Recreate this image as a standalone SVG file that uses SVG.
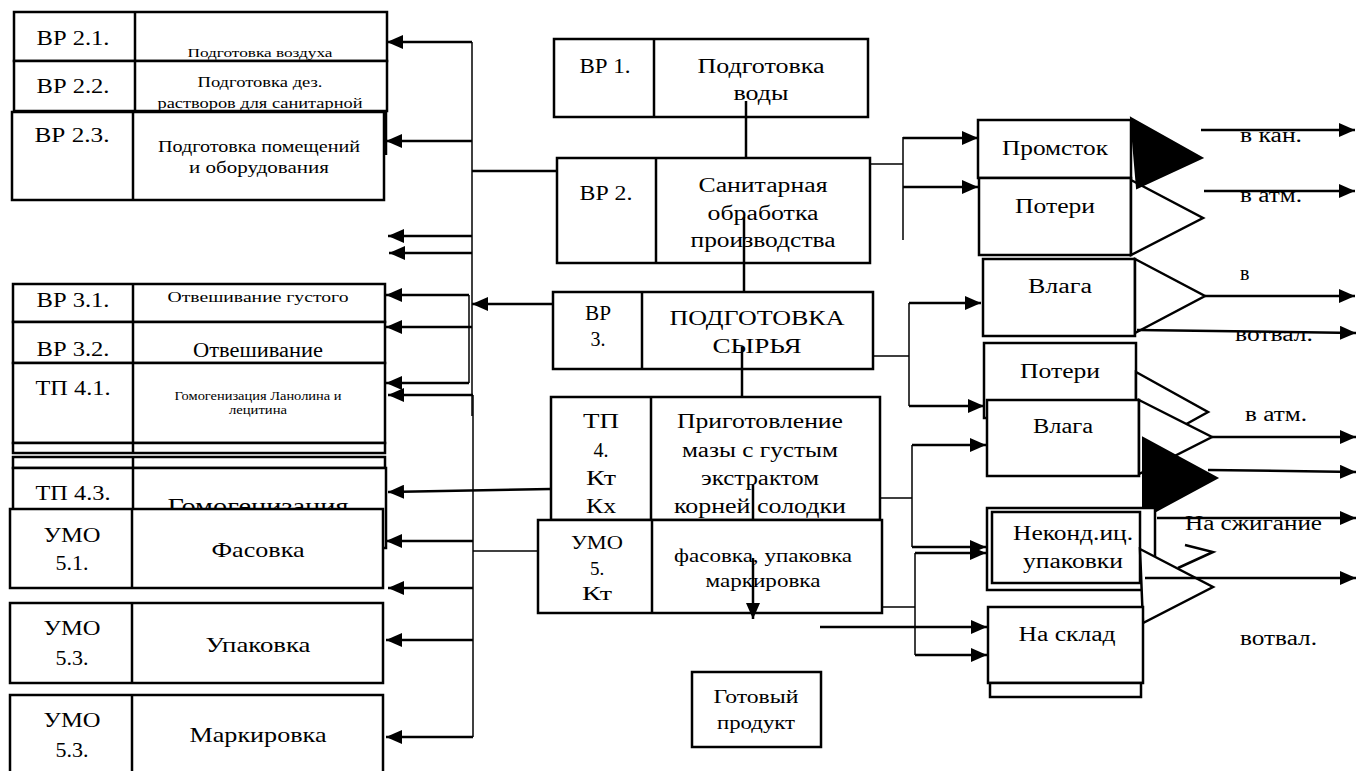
<svg xmlns="http://www.w3.org/2000/svg" width="1357" height="771" viewBox="0 0 1357 771" font-family="Liberation Serif, serif">
<style>
.b{fill:#fff;stroke:#000;stroke-width:2.5}
.o{fill:none;stroke:#000;stroke-width:2.5}
.k{fill:#000;stroke:#000;stroke-width:2}
.t{font-family:"Liberation Serif",serif;fill:#000;text-anchor:middle;font-size:20px}
.s{text-anchor:start}
.c{stroke:#000;stroke-width:2.5;fill:none}
.h{stroke-width:1.5}
.a{marker-end:url(#ah)}
</style>
<defs>
<marker id="ah" markerUnits="userSpaceOnUse" markerWidth="17" markerHeight="14" refX="16" refY="7" orient="auto">
<path d="M0,0 L16,7 L0,14 z" fill="#000"/>
</marker>
</defs>
<rect width="1357" height="771" fill="#fff"/>

<!-- left column -->
<g id="bp21">
<rect class="b" x="14" y="12" width="373" height="49"/>
<path class="o" d="M135,12V61"/>
<text class="t" x="73" y="45" textLength="73" lengthAdjust="spacingAndGlyphs">ВР 2.1.</text>
<text class="t" x="260" y="57" style="font-size:13px" textLength="145" lengthAdjust="spacingAndGlyphs">Подготовка воздуха</text>
</g>
<g id="bp22">
<rect class="b" x="14" y="61" width="373" height="50"/>
<path class="o" d="M135,61V111M386,111V155"/>
<text class="t" x="73" y="93" textLength="73" lengthAdjust="spacingAndGlyphs">ВР 2.2.</text>
<text class="t" x="260" y="87" style="font-size:15px" textLength="125" lengthAdjust="spacingAndGlyphs">Подготовка дез.</text>
<text class="t" x="260" y="108" style="font-size:15px" textLength="205" lengthAdjust="spacingAndGlyphs">растворов для санитарной</text>
</g>
<g id="bp23">
<rect class="b" x="12" y="112" width="372" height="88"/>
<path class="o" d="M133,112V200"/>
<text class="t" x="72" y="142" textLength="75" lengthAdjust="spacingAndGlyphs">ВР 2.3.</text>
<text class="t" x="259" y="152" style="font-size:16px" textLength="202" lengthAdjust="spacingAndGlyphs">Подготовка помещений</text>
<text class="t" x="259" y="173" style="font-size:16px" textLength="140" lengthAdjust="spacingAndGlyphs">и оборудования</text>
</g>
<g id="bp31">
<rect class="b" x="13" y="284" width="372" height="38"/>
<path class="o" d="M133,284V322"/>
<text class="t" x="73" y="307" textLength="73" lengthAdjust="spacingAndGlyphs">ВР 3.1.</text>
<text class="t" x="258" y="302" style="font-size:15px" textLength="181" lengthAdjust="spacingAndGlyphs">Отвешивание густого</text>
</g>
<g id="bp32">
<rect class="b" x="13" y="322" width="372" height="41"/>
<path class="o" d="M133,322V363"/>
<text class="t" x="73" y="356" textLength="73" lengthAdjust="spacingAndGlyphs">ВР 3.2.</text>
<text class="t" x="258" y="357" textLength="130" lengthAdjust="spacingAndGlyphs">Отвешивание</text>
</g>
<g id="tp41">
<rect class="b" x="13" y="363" width="372" height="80"/>
<path class="o" d="M133,363V443"/>
<text class="t" x="73" y="395" textLength="75" lengthAdjust="spacingAndGlyphs">ТП 4.1.</text>
<text class="t" x="258" y="400" style="font-size:12px" textLength="167" lengthAdjust="spacingAndGlyphs">Гомогенизация Ланолина и</text>
<text class="t" x="258" y="414" style="font-size:12px" textLength="58" lengthAdjust="spacingAndGlyphs">лецитина</text>
</g>
<g id="tp42">
<rect class="b" x="13" y="443" width="372" height="10"/>
<path class="o" d="M133,443V453"/>
<rect class="b" x="13" y="457" width="372" height="11"/>
<path class="o" d="M133,457V468"/>
</g>
<g id="tp43">
<rect class="b" x="13" y="468" width="373" height="80"/>
<path class="o" d="M133,468V548"/>
<text class="t" x="73" y="500" textLength="75" lengthAdjust="spacingAndGlyphs">ТП 4.3.</text>
<text class="t" x="258" y="514" style="font-size:24px" textLength="181" lengthAdjust="spacingAndGlyphs">Гомогенизация</text>
</g>
<g id="umo51">
<rect class="b" x="10" y="509" width="373" height="79"/>
<path class="o" d="M132,509V588"/>
<text class="t" x="72" y="542" style="font-size:21px" textLength="57" lengthAdjust="spacingAndGlyphs">УМО</text>
<text class="t" x="72" y="570" style="font-size:21px" textLength="33" lengthAdjust="spacingAndGlyphs">5.1.</text>
<text class="t" x="258" y="557" style="font-size:21px" textLength="93" lengthAdjust="spacingAndGlyphs">Фасовка</text>
</g>
<g id="umo53a">
<rect class="b" x="10" y="603" width="373" height="80"/>
<path class="o" d="M132,603V683"/>
<text class="t" x="72" y="635" style="font-size:21px" textLength="57" lengthAdjust="spacingAndGlyphs">УМО</text>
<text class="t" x="72" y="665" style="font-size:21px" textLength="33" lengthAdjust="spacingAndGlyphs">5.3.</text>
<text class="t" x="258" y="652" style="font-size:21px" textLength="105" lengthAdjust="spacingAndGlyphs">Упаковка</text>
</g>
<g id="umo53b">
<rect class="b" x="10" y="695" width="373" height="82"/>
<path class="o" d="M132,695V777"/>
<text class="t" x="72" y="727" style="font-size:21px" textLength="57" lengthAdjust="spacingAndGlyphs">УМО</text>
<text class="t" x="72" y="757" style="font-size:21px" textLength="33" lengthAdjust="spacingAndGlyphs">5.3.</text>
<text class="t" x="258" y="742" style="font-size:21px" textLength="137" lengthAdjust="spacingAndGlyphs">Маркировка</text>
</g>

<!-- centre column -->
<g id="bp1">
<rect class="b" x="554" y="39" width="314" height="78"/>
<path class="o" d="M654,39V117"/>
<text class="t" x="605" y="73" textLength="51" lengthAdjust="spacingAndGlyphs">ВР 1.</text>
<text class="t" x="761" y="73" textLength="127" lengthAdjust="spacingAndGlyphs">Подготовка</text>
<text class="t" x="761" y="100" textLength="55" lengthAdjust="spacingAndGlyphs">воды</text>
</g>
<g id="bp2">
<rect class="b" x="557" y="158" width="313" height="105"/>
<path class="o" d="M656,158V263"/>
<text class="t" x="606" y="200" textLength="53" lengthAdjust="spacingAndGlyphs">ВР 2.</text>
<text class="t" x="763" y="192" textLength="129" lengthAdjust="spacingAndGlyphs">Санитарная</text>
<text class="t" x="763" y="220" textLength="111" lengthAdjust="spacingAndGlyphs">обработка</text>
<text class="t" x="763" y="247" textLength="145" lengthAdjust="spacingAndGlyphs">производства</text>
</g>
<g id="bp3">
<rect class="b" x="553" y="292" width="320" height="77"/>
<path class="o" d="M642,292V369"/>
<text class="t" x="598" y="320" textLength="26" lengthAdjust="spacingAndGlyphs">ВР</text>
<text class="t" x="598" y="346">3.</text>
<text class="t" x="757" y="325" textLength="175" lengthAdjust="spacingAndGlyphs">ПОДГОТОВКА</text>
<text class="t" x="757" y="353" textLength="89" lengthAdjust="spacingAndGlyphs">СЫРЬЯ</text>
</g>
<g id="tp4">
<rect class="b" x="551" y="397" width="329" height="123"/>
<path class="o" d="M651,397V520"/>
<text class="t" x="601" y="428" textLength="36" lengthAdjust="spacingAndGlyphs">ТП</text>
<text class="t" x="601" y="457">4.</text>
<text class="t" x="601" y="485" textLength="30" lengthAdjust="spacingAndGlyphs">Кт</text>
<text class="t" x="601" y="513" textLength="30" lengthAdjust="spacingAndGlyphs">Кх</text>
<text class="t" x="760" y="428" textLength="166" lengthAdjust="spacingAndGlyphs">Приготовление</text>
<text class="t" x="760" y="457" textLength="156" lengthAdjust="spacingAndGlyphs">мазы с густым</text>
<text class="t" x="760" y="485" textLength="118" lengthAdjust="spacingAndGlyphs">экстрактом</text>
<text class="t" x="760" y="513" textLength="172" lengthAdjust="spacingAndGlyphs">корней солодки</text>
</g>
<g id="umo5">
<rect class="b" x="538" y="520" width="344" height="93"/>
<path class="o" d="M652,520V613"/>
<text class="t" x="597" y="549" style="font-size:19px" textLength="52" lengthAdjust="spacingAndGlyphs">УМО</text>
<text class="t" x="597" y="575" style="font-size:19px">5.</text>
<text class="t" x="597" y="600" style="font-size:19px" textLength="30" lengthAdjust="spacingAndGlyphs">Кт</text>
<text class="t" x="763" y="562" style="font-size:18px" textLength="178" lengthAdjust="spacingAndGlyphs">фасовка, упаковка</text>
<text class="t" x="763" y="587" style="font-size:18px" textLength="115" lengthAdjust="spacingAndGlyphs">маркировка</text>
</g>
<g id="product">
<rect class="b" x="692" y="672" width="129" height="75"/>
<text class="t" x="756" y="703" style="font-size:18px" textLength="85" lengthAdjust="spacingAndGlyphs">Готовый</text>
<text class="t" x="756" y="729" style="font-size:18px" textLength="78" lengthAdjust="spacingAndGlyphs">продукт</text>
</g>

<!-- right column -->
<g id="promstok">
<rect class="b" x="978" y="120" width="153" height="58"/>
<text class="t" x="1055" y="155" textLength="106" lengthAdjust="spacingAndGlyphs">Промсток</text>
</g>
<g id="poteri1">
<rect class="b" x="979" y="178" width="152" height="77"/>
<text class="t" x="1055" y="213" textLength="80" lengthAdjust="spacingAndGlyphs">Потери</text>
<polygon class="b" points="1131,180 1203,218 1131,255"/>
</g>
<polygon id="sink-kan" class="k" points="1131,118 1202,158 1137,188"/>
<g id="vlaga1">
<rect class="b" x="983" y="259" width="152" height="77"/>
<text class="t" x="1060" y="293" textLength="64" lengthAdjust="spacingAndGlyphs">Влага</text>
<polygon class="b" points="1135,259 1205,296 1135,333"/>
</g>
<g id="poteri2">
<rect class="b" x="984" y="343" width="152" height="75"/>
<text class="t" x="1060" y="378" textLength="80" lengthAdjust="spacingAndGlyphs">Потери</text>
<polygon class="b" points="1136,372 1208,412 1136,452"/>
</g>
<g id="vlaga2">
<rect class="b" x="987" y="400" width="152" height="76"/>
<text class="t" x="1063" y="433" textLength="60" lengthAdjust="spacingAndGlyphs">Влага</text>
<polygon class="b" points="1139,400 1212,437 1139,474"/>
</g>
<polygon id="sink-2" class="k" points="1143,438 1217,478 1143,518"/>
<g id="nekond">
<rect class="b" x="987" y="508" width="168" height="82"/>
<rect class="o" x="992" y="512" width="148" height="71"/>
<text class="t" x="1073" y="540" textLength="120" lengthAdjust="spacingAndGlyphs">Неконд.иц.</text>
<text class="t" x="1073" y="568" textLength="100" lengthAdjust="spacingAndGlyphs">упаковки</text>
<polyline class="o" points="1185,545 1213,552 1178,568"/>
<polygon class="b" points="1140,549 1213,587 1143,623"/>
</g>
<g id="sklad">
<rect class="b" x="988" y="607" width="155" height="76"/>
<rect class="b" x="990" y="683" width="151" height="14"/>
<text class="t" x="1067" y="641" textLength="97" lengthAdjust="spacingAndGlyphs">На склад</text>
</g>
<g id="outlets">
<text class="t s" x="1240" y="142" textLength="62" lengthAdjust="spacingAndGlyphs">в кан.</text>
<text class="t s" x="1240" y="202" textLength="62" lengthAdjust="spacingAndGlyphs">в атм.</text>
<text class="t s" x="1240" y="280">в</text>
<text class="t s" x="1235" y="341" textLength="78" lengthAdjust="spacingAndGlyphs">вотвал.</text>
<text class="t s" x="1245" y="421" textLength="62" lengthAdjust="spacingAndGlyphs">в атм.</text>
<text class="t s" x="1185" y="530" textLength="137" lengthAdjust="spacingAndGlyphs">На сжигание</text>
<text class="t s" x="1240" y="645" textLength="77" lengthAdjust="spacingAndGlyphs">вотвал.</text>
</g>

<g id="connectors">
<path class="c" d="M557,171H472"/>
<path class="c h" d="M472,42V416"/>
<path class="c h" d="M473,395V737"/>
<path class="c h" d="M469,295V383"/>
<path class="c a" d="M472,42H387"/>
<path class="c a" d="M472,141H386"/>
<path class="c a" d="M472,236H388"/>
<path class="c a" d="M472,253H389"/>
<path class="c a" d="M553,304H472"/>
<path class="c a" d="M469,295H386"/>
<path class="c a" d="M472,327H386"/>
<path class="c a" d="M469,383H386"/>
<path class="c a" d="M473,395H388"/>
<path class="c a" d="M551,489L388,492"/>
<path class="c h" d="M538,551H473"/>
<path class="c a" d="M473,541H386"/>
<path class="c a" d="M473,588H388"/>
<path class="c a" d="M473,640H386"/>
<path class="c a" d="M473,737H386"/>
<path class="c" d="M746,101V158"/>
<path class="c" d="M744,217V292"/>
<path class="c" d="M742,347V397"/>
<path class="c" d="M753,485V520"/>
<path class="c a" d="M753,558V619"/>
<path class="c h" d="M870,164H903M903,137V240"/>
<path class="c a" d="M903,138H978"/>
<path class="c a" d="M903,187H978"/>
<path class="c h" d="M873,356H909M909,303V406"/>
<path class="c a" d="M909,303H981"/>
<path class="c a" d="M909,406H984"/>
<path class="c h" d="M880,498H912M912,445V547"/>
<path class="c a" d="M912,445H986"/>
<path class="c a" d="M912,547H986"/>
<path class="c h" d="M882,607H915M915,553V655"/>
<path class="c a" d="M915,553H986"/>
<path class="c a" d="M915,655H987"/>
<path class="c a" d="M820,627H987"/>
<path class="c a" d="M1201,130H1355"/>
<path class="c a" d="M1204,191H1355"/>
<path class="c a" d="M1205,296H1355"/>
<path class="c a" d="M1137,330L1356,333"/>
<path class="c a" d="M1212,437H1356"/>
<path class="c a" d="M1208,470L1356,472"/>
<path class="c a" d="M1157,518H1356"/>
<path class="c a" d="M1145,578H1356"/>
</g>
</svg>
